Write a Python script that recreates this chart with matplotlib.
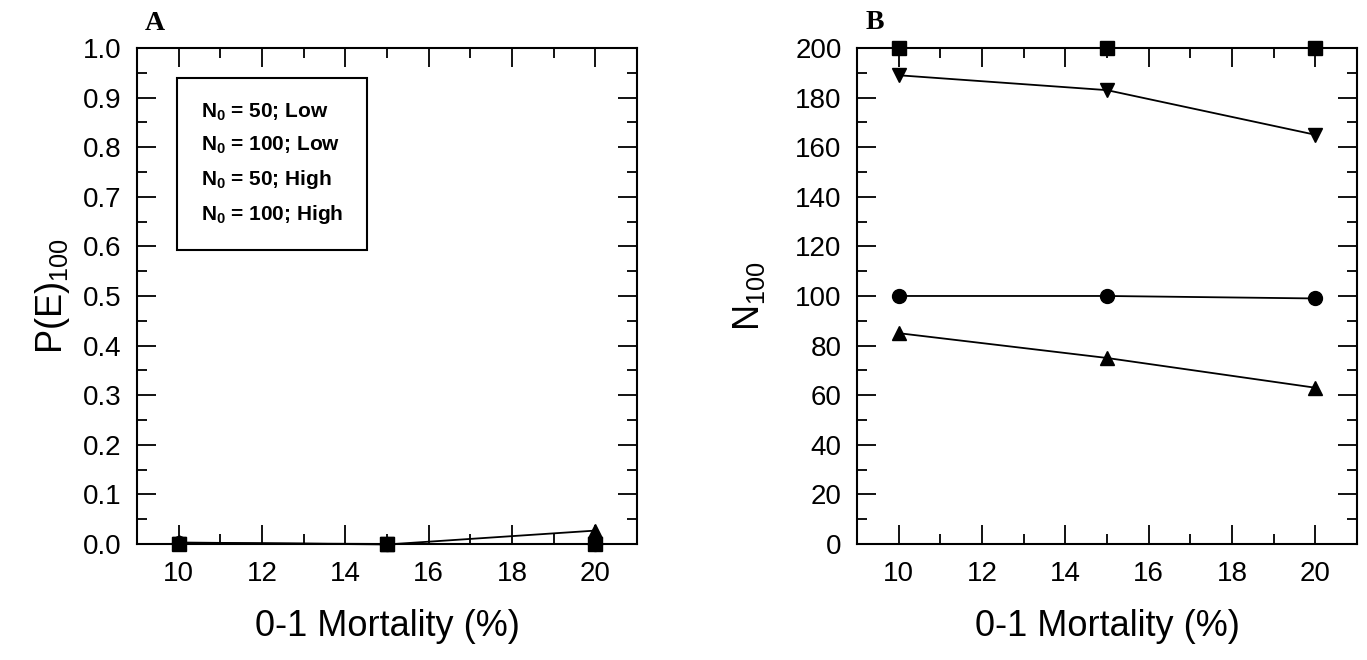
import matplotlib.pyplot as plt
from matplotlib.ticker import MultipleLocator

plt.rcParams['font.family'] = ['Liberation Sans', 'DejaVu Sans']
plt.rcParams['mathtext.fontset'] = 'custom'
plt.rcParams['mathtext.rm'] = 'Liberation Sans'
plt.rcParams['mathtext.bf'] = 'Liberation Sans:bold'

mortality = [10, 15, 20]
labels = [r'$\mathbf{N_0}$ = 50; Low', r'$\mathbf{N_0}$ = 100; Low',
          r'$\mathbf{N_0}$ = 50; High', r'$\mathbf{N_0}$ = 100; High']
markers = ['o', 's', '^', 'v']

# panel A: extinction probability
pe_50_low = [0.002, 0.0, 0.0]
pe_100_low = [0.0, 0.0, 0.0]
pe_50_high = [0.003, -0.001, 0.027]
pe_100_high = [0.0, 0.0, 0.0]

# panel B: population size after 100 years
n_50_low = [100, 100, 99]
n_100_low = [200, 200, 200]
n_50_high = [85, 75, 63]
n_100_high = [189, 183, 165]

fig = plt.figure(figsize=(13.67, 6.6), dpi=100)
axA = fig.add_axes([0.1002, 0.1758, 0.3658, 0.7515])
axB = fig.add_axes([0.6269, 0.1758, 0.3658, 0.7515])


def style(ax):
    ax.tick_params(which='both', direction='in', top=True, right=True,
                   width=1.3, labelsize=20)
    ax.tick_params(axis='x', pad=12)
    ax.tick_params(axis='y', pad=11)
    ax.tick_params(which='major', length=13.5)
    ax.tick_params(which='minor', length=7)
    for s in ax.spines.values():
        s.set_linewidth(1.5)
    ax.set_xlim(9, 21)
    ax.xaxis.set_major_locator(MultipleLocator(2))
    ax.xaxis.set_minor_locator(MultipleLocator(1))
    ax.set_xlabel('0-1 Mortality (%)', fontsize=26, labelpad=16)


seriesA = [pe_50_low, pe_100_low, pe_50_high, pe_100_high]
for ys, m, lab in zip(seriesA, markers, labels):
    axA.plot(mortality, ys, color='black', marker=m, markersize=10,
             linewidth=1.3, label=lab, clip_on=False)
style(axA)
axA.set_ylim(0, 1.0)
axA.yaxis.set_major_locator(MultipleLocator(0.1))
axA.yaxis.set_minor_locator(MultipleLocator(0.05))
axA.yaxis.set_major_formatter('{x:.1f}')
axA.set_ylabel(r'P(E)$_{100}$', fontsize=26, labelpad=8)
axA.text(0.036, 1.05, 'A', transform=axA.transAxes, fontsize=20,
         fontweight='bold', family='Liberation Serif', ha='center', va='center')

leg = axA.legend(loc='upper left', bbox_to_anchor=(0.08, 0.9395),
                 handlelength=0, handletextpad=0, fancybox=False,
                 edgecolor='black', framealpha=1, borderpad=1.15,
                 borderaxespad=0, labelspacing=0.56,
                 prop={'weight': 'bold', 'size': 15})
leg.get_frame().set_linewidth(1.5)
for h in leg.legend_handles:
    h.set_visible(False)

seriesB = [n_50_low, n_100_low, n_50_high, n_100_high]
for ys, m in zip(seriesB, markers):
    axB.plot(mortality, ys, color='black', marker=m, markersize=10,
             linewidth=1.3, clip_on=False)
style(axB)
axB.set_ylim(0, 200)
axB.yaxis.set_major_locator(MultipleLocator(20))
axB.yaxis.set_minor_locator(MultipleLocator(10))
axB.set_ylabel(r'N$_{100}$', fontsize=26, labelpad=20)
axB.text(0.036, 1.052, 'B', transform=axB.transAxes, fontsize=20,
         fontweight='bold', family='Liberation Serif', ha='center', va='center')

fig.savefig('out.png', dpi=100)
